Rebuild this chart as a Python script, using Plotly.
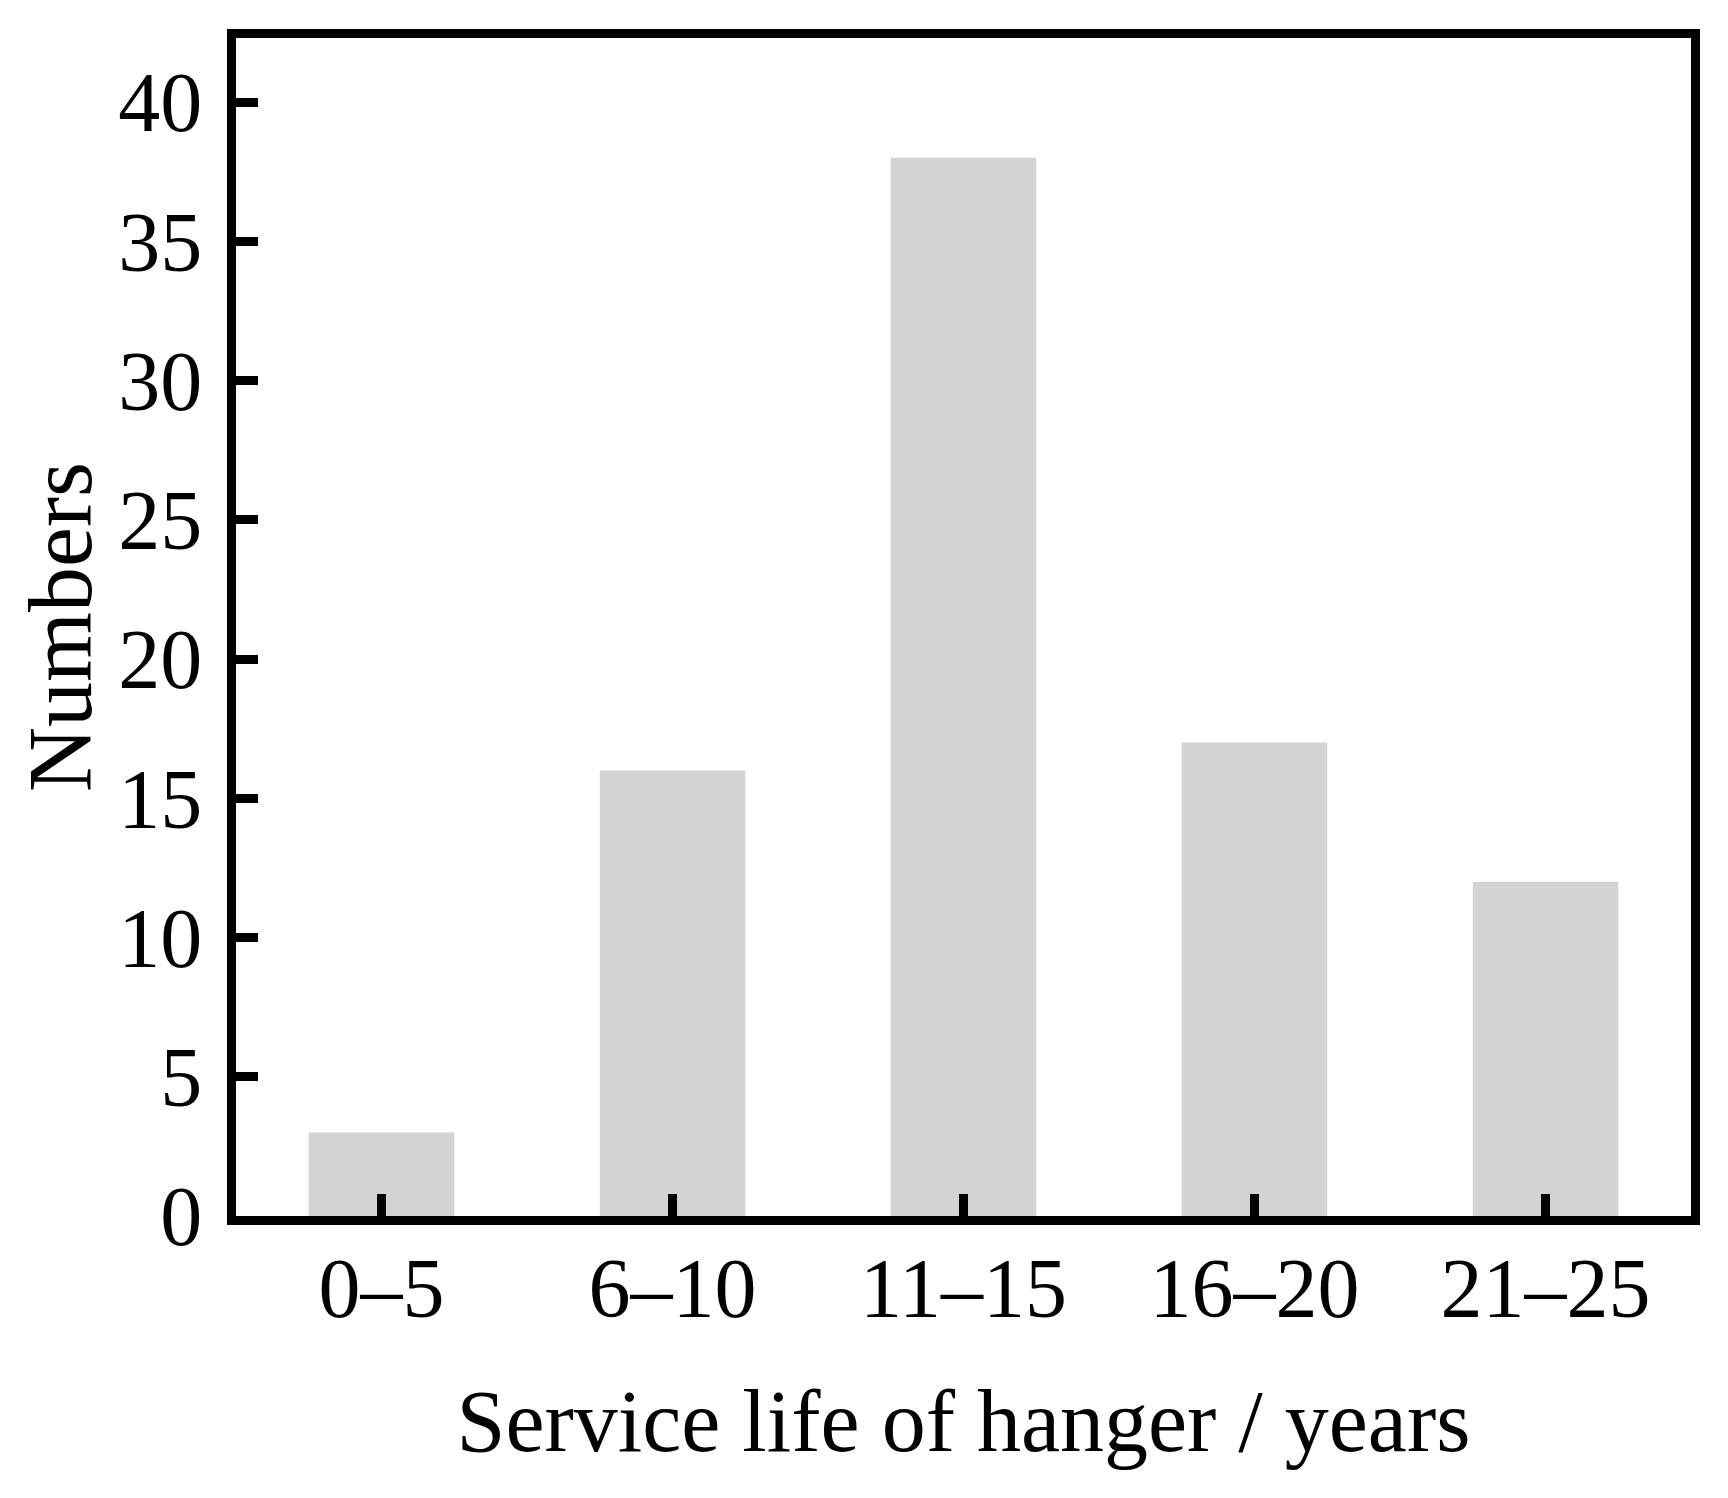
import plotly.graph_objects as go

categories = ["0–5", "6–10", "11–15", "16–20", "21–25"]
numbers = [3, 16, 38, 17, 12]
y_ticks = [0, 5, 10, 15, 20, 25, 30, 35, 40]

FONT = "Liberation Serif, Times New Roman, serif"

fig = go.Figure()
fig.add_trace(go.Bar(
    x=categories, y=numbers,
    marker=dict(color="#d3d3d3", line=dict(width=0)),
    width=0.5,
))

fig.update_layout(
    width=1728, height=1498,
    margin=dict(l=228, r=45, t=30, b=290),
    plot_bgcolor="white", paper_bgcolor="white",
    showlegend=False,
    font=dict(family=FONT, color="black"),
)

fig.update_xaxes(
    type="category", range=[-0.5, 4.5],
    showline=True, linecolor="black", linewidth=9, mirror=True,
    ticks="inside", ticklen=22, tickwidth=9, tickcolor="black",
    tickfont=dict(family=FONT, size=84, color="black"),
    ticklabelstandoff=-9,
    showgrid=False, zeroline=False,
    title=dict(text="Service life of hanger / years",
               font=dict(family=FONT, size=88, color="black"), standoff=59),
)
fig.update_yaxes(
    range=[0, 42.3], tickvals=y_ticks,
    showline=True, linecolor="black", linewidth=9, mirror=True,
    ticks="inside", ticklen=22, tickwidth=9, tickcolor="black",
    tickfont=dict(family=FONT, size=84, color="black"),
    ticklabelstandoff=8,
    showgrid=False, zeroline=False,
    title=dict(text="Numbers",
               font=dict(family=FONT, size=90, color="black"), standoff=0),
)

fig.write_html("out.html")
